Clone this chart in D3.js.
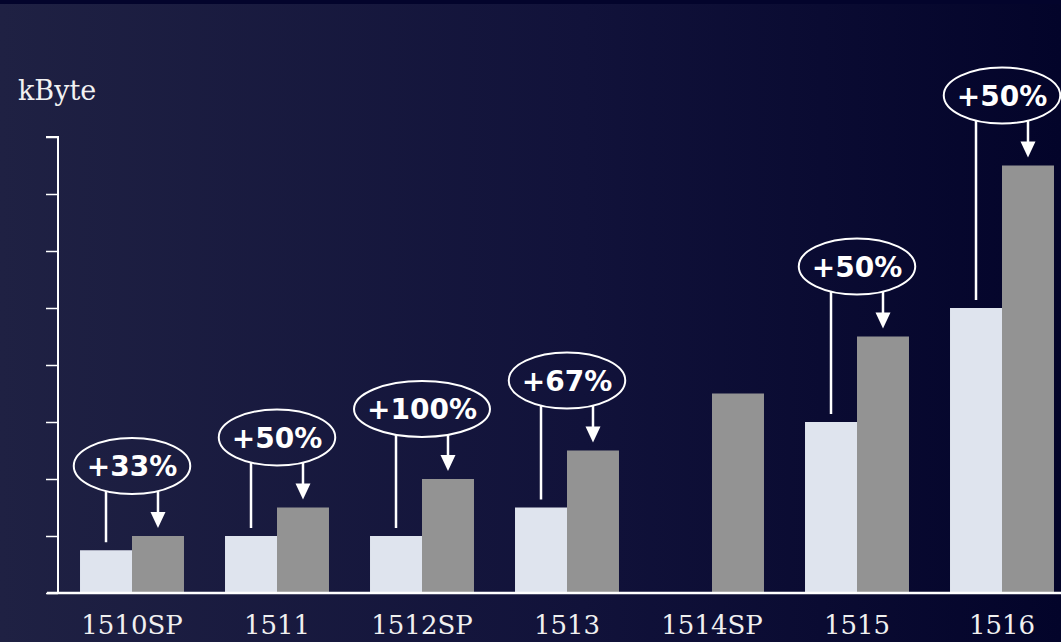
<!DOCTYPE html>
<html>
<head>
<meta charset="utf-8">
<script src="https://cdn.jsdelivr.net/npm/d3@7"></script>
<style>
  html, body { margin: 0; padding: 0; background: #0b0c30; }
  svg { display: block; }
</style>
</head>
<body>
<svg width="1061" height="642"></svg>
<script>
'use strict'

// data
var releases = ["1510SP", "1511", "1512SP", "1513", "1514SP", "1515", "1516"];
var before = [0.75, 1, 1, 1.5, null, 3, 5];
var after = [1, 1.5, 2, 2.5, 3.5, 4.5, 7.5];
var growth = ["+33%", "+50%", "+100%", "+67%", null, "+50%", "+50%"];
var yTicks = [0, 1, 2, 3, 4, 5, 6, 7, 8];

var svg = d3.select("svg"),
  width = +svg.attr("width"),
  height = +svg.attr("height");

var defs = svg.append("defs");
var bg = defs.append("linearGradient")
  .attr("id", "bg")
  .attr("x1", "0%").attr("y1", "0%")
  .attr("x2", "100%").attr("y2", "0%");
bg.append("stop").attr("offset", "0%").attr("stop-color", "#1f2143");
bg.append("stop").attr("offset", "55%").attr("stop-color", "#11123a");
bg.append("stop").attr("offset", "100%").attr("stop-color", "#03042a");

svg.append("rect")
  .attr("width", width)
  .attr("height", height)
  .attr("fill", "url(#bg)");
svg.append("rect")
  .attr("width", width)
  .attr("height", 4)
  .attr("fill", "#03042c");

var x = d3.scaleBand()
  .domain(releases)
  .range([59.5, 59.5 + 145 * releases.length])
  .paddingInner(0.283)
  .paddingOuter(0.1415);

var y = d3.scaleLinear()
  .domain([0, 8])
  .range([593, 137]);

var half = x.bandwidth() / 2;

// y axis
var yAxis = d3.axisLeft(y)
  .tickValues(yTicks)
  .tickSize(12)
  .tickFormat("");
var gy = svg.append("g")
  .attr("transform", "translate(58,0)")
  .call(yAxis);
gy.select(".domain").attr("stroke", "#ffffff").attr("stroke-width", 2)
  .attr("d", "M-12," + y(8) + "H0V" + y(0));
gy.selectAll(".tick line").attr("stroke", "#ffffff").attr("stroke-width", 1.5);

svg.append("text")
  .attr("x", 18)
  .attr("y", 100)
  .attr("fill", "#f2f2f2")
  .style("font-family", "'DejaVu Serif', serif")
  .style("font-size", "27px")
  .text("kByte");

// bars
var groups = svg.append("g").selectAll("g")
  .data(releases)
  .enter()
  .append("g");

groups.filter(function(d, i) { return before[i] != null; })
  .append("rect")
  .attr("x", function(d) { return x(d); })
  .attr("y", function(d) { return y(before[releases.indexOf(d)]); })
  .attr("width", half)
  .attr("height", function(d) { return y(0) - y(before[releases.indexOf(d)]); })
  .attr("fill", "#dfe4ee");

groups.append("rect")
  .attr("x", function(d) { return x(d) + half; })
  .attr("y", function(d, i) { return y(after[i]); })
  .attr("width", half)
  .attr("height", function(d, i) { return y(0) - y(after[i]); })
  .attr("fill", "#939393");

// x axis
var xAxis = d3.axisBottom(x).tickSize(0).tickPadding(23);
var gx = svg.append("g")
  .attr("transform", "translate(0,593)")
  .call(xAxis);
gx.select(".domain").attr("stroke", "#ffffff").attr("stroke-width", 2.5)
  .attr("d", "M47,0H" + width);
gx.selectAll(".tick text")
  .attr("fill", "#f0f0f0")
  .attr("dy", "0.71em")
  .style("font-family", "'DejaVu Serif', serif")
  .style("font-size", "26px")
  .style("font-variant-numeric", "oldstyle-nums");

// growth annotations
var ry = 28;
var notes = svg.append("g").selectAll("g")
  .data(releases.filter(function(d, i) { return growth[i] != null; }))
  .enter()
  .append("g");

notes.each(function(d) {
  var i = releases.indexOf(d);
  var g = d3.select(this);
  var cx = x(d) + half;
  var top = y(after[i]);
  var cy = top - 70;

  var label = g.append("text")
    .attr("x", cx)
    .attr("y", cy)
    .attr("dy", "0.36em")
    .attr("text-anchor", "middle")
    .attr("fill", "#ffffff")
    .style("font-family", "'DejaVu Sans', sans-serif")
    .style("font-weight", "bold")
    .style("font-size", "28px")
    .text(growth[i]);
  var rx = label.node().getBBox().width / 2 + 13;

  g.insert("ellipse", "text")
    .attr("cx", cx)
    .attr("cy", cy)
    .attr("rx", rx)
    .attr("ry", ry)
    .attr("fill", "none")
    .attr("stroke", "#ffffff")
    .attr("stroke-width", 2);

  var off = half / 2;
  var edge = cy + ry * Math.sqrt(1 - (off * off) / (rx * rx));

  // line to the older bar
  g.append("line")
    .attr("x1", cx - off).attr("x2", cx - off)
    .attr("y1", edge)
    .attr("y2", y(before[i]) - 8)
    .attr("stroke", "#ffffff")
    .attr("stroke-width", 2.5);

  // arrow to the newer bar
  g.append("line")
    .attr("x1", cx + off).attr("x2", cx + off)
    .attr("y1", edge)
    .attr("y2", top - 22)
    .attr("stroke", "#ffffff")
    .attr("stroke-width", 2.5);
  g.append("path")
    .attr("d", "M" + (cx + off - 7.5) + "," + (top - 24) +
      "L" + (cx + off + 7.5) + "," + (top - 24) +
      "L" + (cx + off) + "," + (top - 8) + "Z")
    .attr("fill", "#ffffff");
});
</script>
</body>
</html>
